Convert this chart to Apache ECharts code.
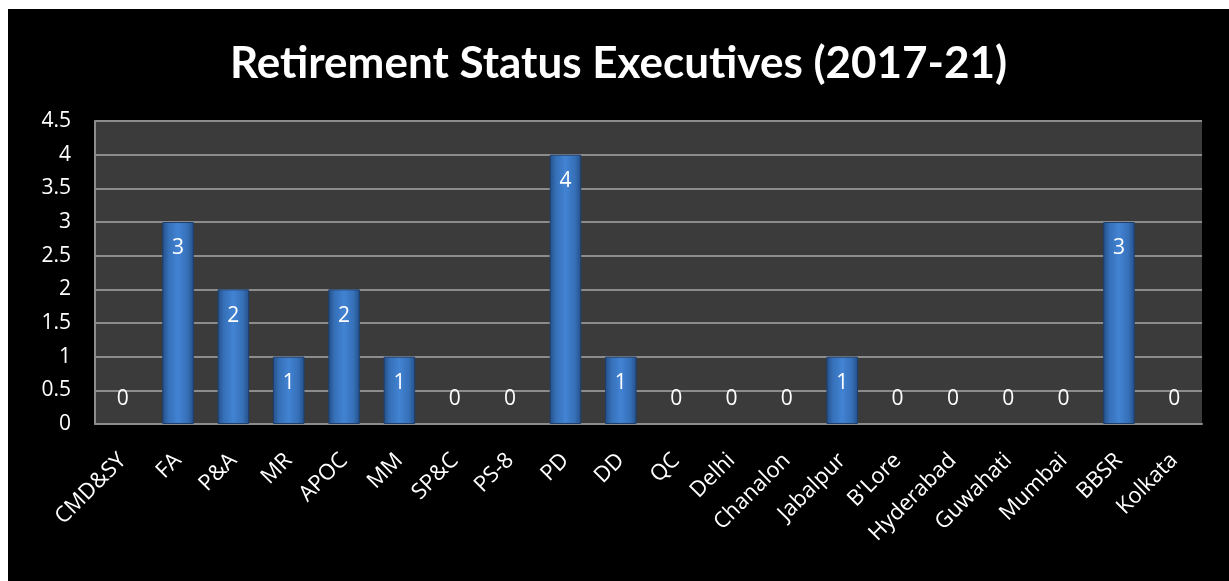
<!DOCTYPE html>
<html><head><meta charset="utf-8">
<script src="https://cdn.jsdelivr.net/npm/echarts@6/dist/echarts.min.js"></script>
<style>
html,body{margin:0;padding:0;background:#fff;width:1229px;height:581px;overflow:hidden;}
#c{position:absolute;left:8px;top:9px;width:1221px;height:572px;}
</style></head>
<body><div id="c"></div>
<script>
const categories = ['CMD&SY','FA','P&A','MR','APOC','MM','SP&C','PS-8','PD','DD','QC','Delhi','Chanalon','Jabalpur',"B'Lore",'Hyderabad','Guwahati','Mumbai','BBSR','Kolkata'];
const values = [0,3,2,1,2,1,0,0,4,1,0,0,0,1,0,0,0,0,3,0];
const yTicks = {min:0, max:4.5, interval:0.5};
const titleText = 'Retirement Status Executives (2017-21)';

const titleFont = 'Lato, sans-serif';
const font = '"Open Sans", sans-serif';
const chart = echarts.init(document.getElementById('c'));
const barColor = new echarts.graphic.LinearGradient(0,0,1,0,[
  {offset:0,color:'#244f87'},
  {offset:0.2,color:'#3670b8'},
  {offset:0.5,color:'#4283d3'},
  {offset:0.8,color:'#3670b8'},
  {offset:1,color:'#244f87'}
]);
chart.setOption({
  backgroundColor:'#000',
  animation:false,
  title:{text:titleText,left:'center',top:28,textStyle:{color:'#fff',fontFamily:titleFont,fontWeight:'bold',fontSize:44}},
  grid:{left:87,right:27,top:112,bottom:157,backgroundColor:'#3b3b3b',show:true,borderWidth:0},
  xAxis:{type:'category',data:categories,
    axisLine:{lineStyle:{color:'#8c8c8c',width:2}},axisTick:{show:false},
    axisLabel:{color:'#fff',fontFamily:font,fontSize:22,rotate:45,interval:0,margin:33}},
  yAxis:{type:'value',min:yTicks.min,max:yTicks.max,interval:yTicks.interval,
    axisLine:{show:true,lineStyle:{color:'#8c8c8c',width:2}},axisTick:{show:false},
    splitLine:{lineStyle:{color:'#8c8c8c',width:2}},
    axisLabel:{color:'#fff',fontFamily:font,fontSize:21,margin:24}},
  series:[{type:'bar',barCategoryGap:'43%',
    data:values.map(v=>({value:v,
      itemStyle:v===0?{borderWidth:0}:undefined,
      label:v===0?{position:'top',distance:14}:{position:'insideTop',distance:16}})),
    itemStyle:{color:barColor,borderColor:'#1d3f6e',borderWidth:1},
    label:{show:true,color:'#fff',fontFamily:font,fontSize:21}
  }]
});
</script></body></html>
